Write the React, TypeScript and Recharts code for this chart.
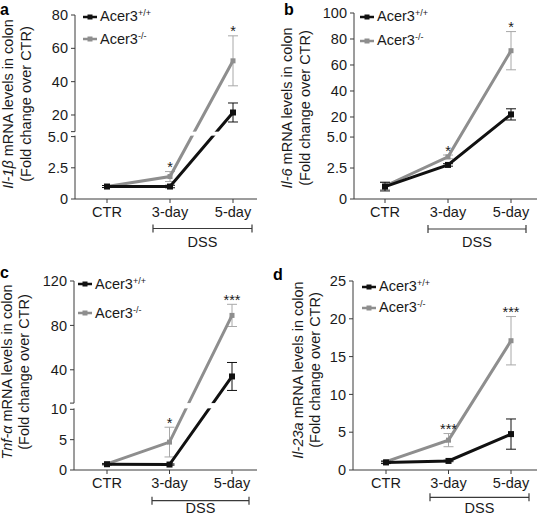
import React from "react";
import { LineChart, Line, XAxis, YAxis, ErrorBar, ReferenceArea, Legend } from "recharts";

const categories = ["CTR", "3-day", "5-day"];
const genotypes = ["+/+", "-/-"];

// a: Il-1β
const il1bWT = [1.0, 1.0, 21.5];
const il1bWTErr = [0.08, 0.1, 5.7];
const il1bKO = [1.0, 1.8, 52.5];
const il1bKOErr = [0.08, 0.4, 15];
const il1bStars = ["", "*", "*"];
const il1bTicks = [0, 2.5, 5, 20, 40, 60, 80];
const il1bTickLabels = ["0", "2.5", "5.0", "20", "40", "60", "80"];

// b: Il-6
const il6WT = [1.0, 2.75, 22];
const il6WTErr = [0.35, 0.1, 4.3];
const il6KO = [1.05, 3.4, 71];
const il6KOErr = [0.3, 0.15, 14.7];
const il6Stars = ["", "*", "*"];
const il6Ticks = [0, 2.5, 5, 20, 40, 60, 80, 100];
const il6TickLabels = ["0", "2.5", "5.0", "20", "40", "60", "80", "100"];

// c: Tnf-α
const tnfWT = [0.95, 0.9, 34];
const tnfWTErr = [0.1, 0.1, 12.6];
const tnfKO = [1.0, 4.6, 89];
const tnfKOErr = [0.1, 2.45, 10];
const tnfStars = ["", "*", "***"];
const tnfTicks = [0, 5, 10, 40, 80, 120];
const tnfTickLabels = ["0", "5", "10", "40", "80", "120"];

// d: Il-23a
const il23WT = [1.0, 1.2, 4.75];
const il23WTErr = [0.15, 0.1, 2.0];
const il23KO = [1.1, 3.95, 17.1];
const il23KOErr = [0.15, 0.87, 3.2];
const il23Stars = ["", "***", "***"];
const il23Ticks = [0, 5, 10, 15, 20, 25];
const il23TickLabels = ["0", "5", "10", "15", "20", "25"];

const FONT = '"Liberation Sans", Arial, Helvetica, sans-serif';
const FS = 14.5;
const AXIS = "#3a3a3a";
const TXT = "#1a1a1a";
const BLACK = "#111111";
const GRAY = "#8e8e8e";
const GRAY_ERR = "#a8a8a8";
const YW = 40;
const XH = 30;

const panels = [
  {
    letter: "a", letterPos: [0, 14.5], gene: "Il-1β",
    box: { x: 0, y: 0, w: 271, h: 255 }, plot: { l: 75, t: 15, r: 257, b: 199 }, pad: [32, 24],
    brk: { lowMax: 5, highMin: 10, highMax: 80, lowFrac: 0.339, gapFrac: 0.027 },
    ticks: il1bTicks, tickLabels: il1bTickLabels,
    wt: il1bWT, wtErr: il1bWTErr, ko: il1bKO, koErr: il1bKOErr, stars: il1bStars,
    label: { x1: 8, x2: 25.5, cy: 104 }, legend: { x: 83, y: 16.7, gap: 22.3 },
    bracket: { x1: 153, x2: 252, y: 228.5, textY: 246.5 },
  },
  {
    letter: "b", letterPos: [284, 14.5], gene: "Il-6",
    box: { x: 271, y: 0, w: 272, h: 255 }, plot: { l: 354, t: 13, r: 537, b: 199 }, pad: [31, 26],
    brk: { lowMax: 5, highMin: 10, highMax: 100, lowFrac: 0.333, gapFrac: 0.038 },
    ticks: il6Ticks, tickLabels: il6TickLabels,
    wt: il6WT, wtErr: il6WTErr, ko: il6KO, koErr: il6KOErr, stars: il6Stars,
    label: { x1: 287, x2: 304.5, cy: 108 }, legend: { x: 360, y: 16.7, gap: 24 },
    bracket: { x1: 428, x2: 526, y: 229, textY: 246.5 },
  },
  {
    letter: "c", letterPos: [0, 278], gene: "Tnf-α",
    box: { x: 0, y: 255, w: 271, h: 262 }, plot: { l: 74, t: 281, r: 257, b: 470 }, pad: [33, 25],
    brk: { lowMax: 10, highMin: 10, highMax: 120, lowFrac: 0.321, gapFrac: 0.033 },
    ticks: tnfTicks, tickLabels: tnfTickLabels,
    wt: tnfWT, wtErr: tnfWTErr, ko: tnfKO, koErr: tnfKOErr, stars: tnfStars,
    label: { x1: 7, x2: 23.5, cy: 372 }, legend: { x: 78, y: 284.3, gap: 29 },
    bracket: { x1: 152, x2: 249, y: 500.7, textY: 513 },
  },
  {
    letter: "d", letterPos: [273, 280], gene: "Il-23a",
    box: { x: 271, y: 255, w: 272, h: 262 }, plot: { l: 353, t: 281, r: 537, b: 470 }, pad: [33, 26],
    brk: null, max: 25,
    ticks: il23Ticks, tickLabels: il23TickLabels,
    wt: il23WT, wtErr: il23WTErr, ko: il23KO, koErr: il23KOErr, stars: il23Stars,
    label: { x1: 298, x2: 314.5, cy: 370 }, legend: { x: 362, y: 286.7, gap: 21 },
    bracket: { x1: 430, x2: 529, y: 497.3, textY: 513 },
  },
];

function makeT(p: any) {
  const b = p.brk;
  if (!b) return (v: number) => v / p.max;
  return (v: number) =>
    v <= b.lowMax
      ? (v / b.lowMax) * b.lowFrac
      : b.lowFrac + b.gapFrac + ((v - b.highMin) / (b.highMax - b.highMin)) * (1 - b.lowFrac - b.gapFrac);
}

const squareDot = (color: string, size: number) => (props: any) => {
  const { cx, cy, index } = props;
  if (cx == null || cy == null) return <g key={`n-${index}`} />;
  return <rect key={`s-${index}`} x={cx - size / 2} y={cy - size / 2} width={size} height={size} fill={color} />;
};

function LegendBox({ p }: { p: any }) {
  const colors = [BLACK, GRAY];
  return (
    <div style={{ fontFamily: FONT, fontSize: FS, color: TXT, lineHeight: 1 }}>
      {genotypes.map((g, i) => (
        <div key={g} style={{ display: "flex", alignItems: "center", height: p.legend.gap, whiteSpace: "nowrap" }}>
          <svg width={14} height={8} style={{ display: "block" }}>
            <line x1={0} x2={14} y1={4} y2={4} stroke={colors[i]} strokeWidth={2.5} />
            <rect x={4.5} y={1.5} width={5} height={5} fill={colors[i]} />
          </svg>
          <span style={{ marginLeft: 3 }}>
            Acer3
            <span style={{ fontSize: 9, position: "relative", top: -5 }}>{g}</span>
          </span>
        </div>
      ))}
    </div>
  );
}

function Panel({ p }: { p: any }) {
  const t = makeT(p);
  const rows = categories.map((c, i) => ({
    cat: c,
    wt: t(p.wt[i]),
    wtErr: [t(p.wt[i]) - t(p.wt[i] - p.wtErr[i]), t(p.wt[i] + p.wtErr[i]) - t(p.wt[i])],
    ko: t(p.ko[i]),
    koErr: [t(p.ko[i]) - t(p.ko[i] - p.koErr[i]), t(p.ko[i] + p.koErr[i]) - t(p.ko[i])],
    star: t(p.ko[i] + p.koErr[i]),
  }));
  const tickT = p.ticks.map((v: number) => t(v));
  const fmt = (v: number) => {
    const i = tickT.findIndex((x: number) => Math.abs(x - v) < 1e-6);
    return i >= 0 ? p.tickLabels[i] : "";
  };
  const { box, plot } = p;
  const starDot = (props: any) => {
    const { cx, cy, index } = props;
    if (cx == null || cy == null || !p.stars[index]) return <g key={`ns-${index}`} />;
    return (
      <text key={`st-${index}`} x={cx} y={cy + 0.5} textAnchor="middle" fontSize={FS} fontFamily={FONT} fill={TXT}>
        {p.stars[index]}
      </text>
    );
  };
  return (
    <div style={{ position: "absolute", left: box.x, top: box.y }}>
      <LineChart
        width={box.w}
        height={box.h}
        data={rows}
        margin={{
          top: plot.t - box.y,
          right: box.x + box.w - plot.r,
          bottom: box.y + box.h - plot.b - XH,
          left: plot.l - box.x - YW,
        }}
        style={{ fontFamily: FONT }}
      >
        <XAxis
          dataKey="cat"
          height={XH}
          padding={{ left: p.pad[0], right: p.pad[1] }}
          tickSize={4}
          tickMargin={4}
          interval={0}
          stroke={AXIS}
          tick={{ fill: TXT, fontSize: FS, fontFamily: FONT }}
        />
        <YAxis
          type="number"
          domain={[0, 1]}
          ticks={tickT}
          interval={0}
          tickFormatter={fmt}
          width={YW}
          tickSize={4}
          tickMargin={3}
          stroke={AXIS}
          allowDataOverflow
          tick={{ fill: TXT, fontSize: FS, fontFamily: FONT }}
        />
        <Line dataKey="ko" stroke={GRAY} strokeWidth={3} dot={squareDot(GRAY, 5)} activeDot={false} isAnimationActive={false}>
          <ErrorBar dataKey="koErr" width={5} stroke={GRAY_ERR} strokeWidth={1} direction="y" />
        </Line>
        <Line dataKey="wt" stroke={BLACK} strokeWidth={3} dot={squareDot(BLACK, 6)} activeDot={false} isAnimationActive={false}>
          <ErrorBar dataKey="wtErr" width={5} stroke={BLACK} strokeWidth={1} direction="y" />
        </Line>
        <Line dataKey="star" stroke="none" dot={starDot} activeDot={false} isAnimationActive={false} />
        {p.brk && (
          <ReferenceArea
            y1={p.brk.lowFrac}
            y2={p.brk.lowFrac + p.brk.gapFrac}
            ifOverflow="visible"
            zIndex={600}
            shape={(s: any) => (
              <g>
                <rect x={plot.l - 1.5} y={s.y} width={plot.r - plot.l + 1.5} height={Math.max(0, s.height - 1)} fill="#ffffff" />
                <line x1={plot.l - 4} x2={plot.l} y1={s.y} y2={s.y} stroke={AXIS} />
              </g>
            )}
          />
        )}
        <Legend
          layout="vertical"
          align="center"
          verticalAlign="middle"
          wrapperStyle={{ left: p.legend.x - box.x, top: p.legend.y - box.y - p.legend.gap / 2, width: "auto", height: "auto" }}
          content={() => <LegendBox p={p} />}
        />
      </LineChart>
    </div>
  );
}

export default function App() {
  return (
    <div style={{ position: "absolute", left: 0, top: 0, width: 543, height: 517, background: "#fff", overflow: "hidden" }}>
      {panels.map((p) => (
        <Panel key={p.letter} p={p} />
      ))}
      <svg width={543} height={517} style={{ position: "absolute", left: 0, top: 0, pointerEvents: "none" }} fontFamily={FONT}>
        {panels.map((p) => (
          <g key={p.letter}>
            <text x={p.letterPos[0]} y={p.letterPos[1]} fontSize={16} fontWeight="bold" fill="#000">
              {p.letter}
            </text>
            <text
              transform={`translate(${p.label.x1},${p.label.cy}) rotate(-90)`}
              textAnchor="middle"
              dominantBaseline="central"
              fontSize={FS}
              fill={TXT}
            >
              <tspan fontStyle="italic">{p.gene}</tspan>
              <tspan> mRNA levels in colon</tspan>
            </text>
            <text
              transform={`translate(${p.label.x2},${p.label.cy}) rotate(-90)`}
              textAnchor="middle"
              dominantBaseline="central"
              fontSize={FS}
              fill={TXT}
            >
              (Fold change over CTR)
            </text>
            <line x1={p.bracket.x1} x2={p.bracket.x2} y1={p.bracket.y} y2={p.bracket.y} stroke={AXIS} strokeWidth={1.2} />
            <line x1={p.bracket.x1} x2={p.bracket.x1} y1={p.bracket.y - 4} y2={p.bracket.y + 4} stroke={AXIS} strokeWidth={1.2} />
            <line x1={p.bracket.x2} x2={p.bracket.x2} y1={p.bracket.y - 4} y2={p.bracket.y + 4} stroke={AXIS} strokeWidth={1.2} />
            <text x={(p.bracket.x1 + p.bracket.x2) / 2} y={p.bracket.textY} textAnchor="middle" fontSize={FS} fill={TXT}>
              DSS
            </text>
          </g>
        ))}
      </svg>
    </div>
  );
}
